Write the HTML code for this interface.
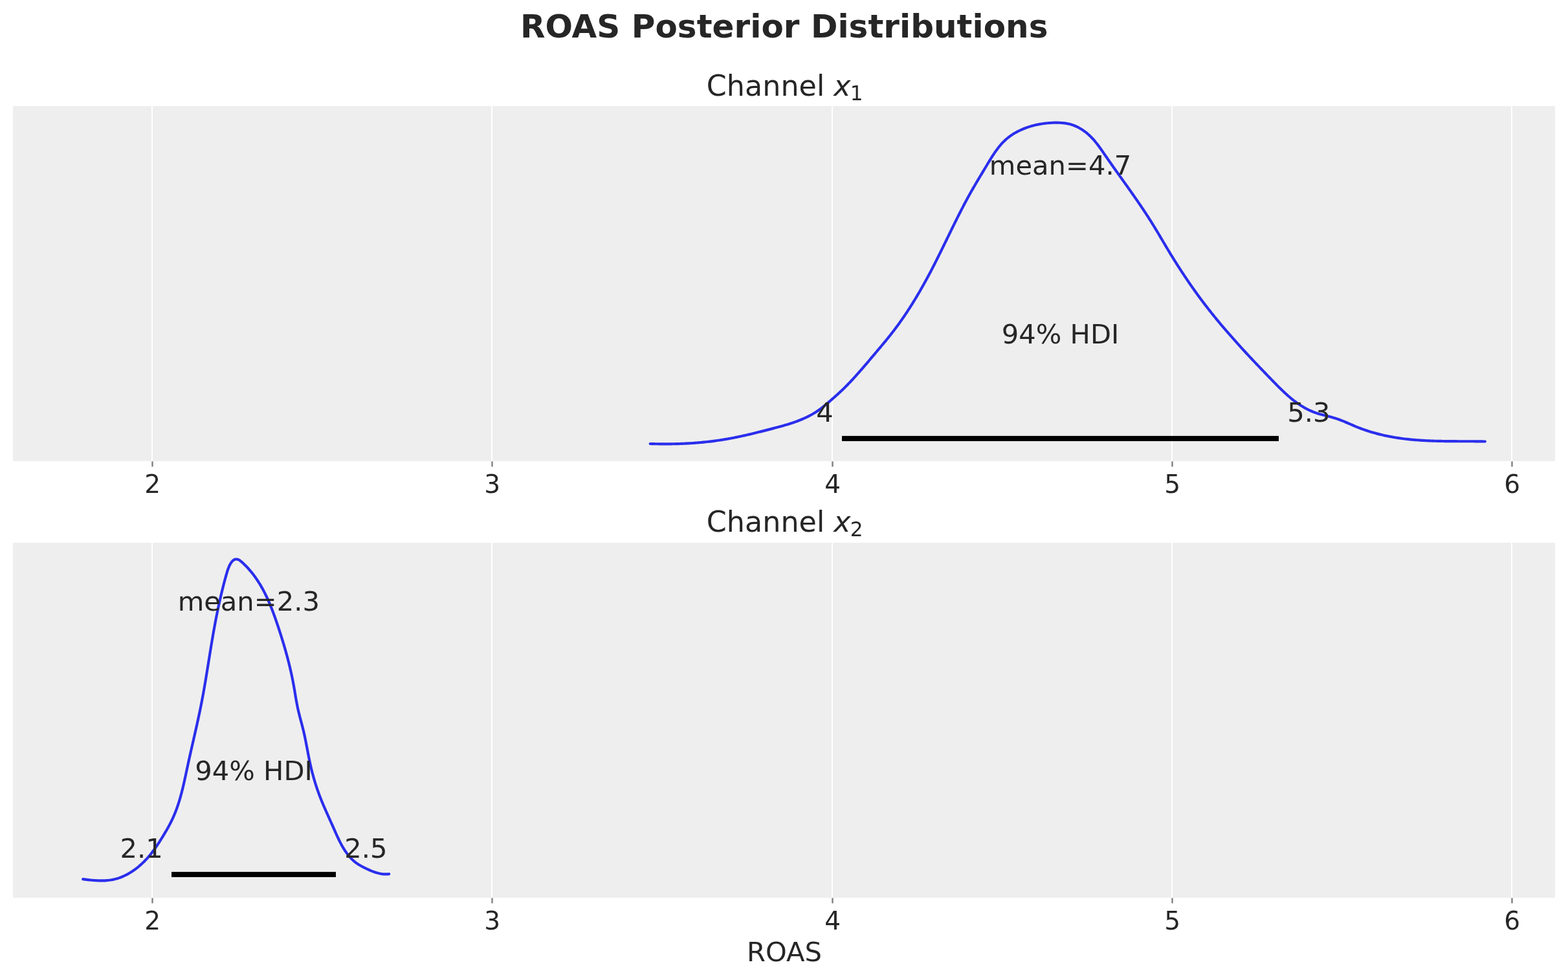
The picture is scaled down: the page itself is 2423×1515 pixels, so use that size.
<!DOCTYPE html>
<html lang="en"><head><meta charset="utf-8">
<title>ROAS Posterior Distributions</title>
<style>
html,body{margin:0;padding:0;background:#fff;}
body{width:2423px;height:1515px;overflow:hidden;}
svg{display:block;}
text{font-family:"DejaVu Sans","Liberation Sans",sans-serif;fill:#262626;}
.tk{font-size:39.1px;text-anchor:middle;}
.an{font-size:41.67px;}
.tt{font-size:44.44px;}
.st{font-size:50px;font-weight:bold;text-anchor:middle;letter-spacing:0.03px;}
.it{font-style:italic;}
.sub{font-size:31.11px;}
</style></head><body>
<svg xmlns="http://www.w3.org/2000/svg" width="2423" height="1515" viewBox="0 0 2423 1515">
<rect x="0" y="0" width="2423" height="1515" fill="#ffffff"/>
<text class="st" x="1211.70" y="57.70">ROAS Posterior Distributions</text>
<g>
<rect x="20.00" y="164.10" width="2383.00" height="548.80" fill="#eeeeee"/>
<rect x="234.00" y="164.10" width="2" height="548.80" fill="#ffffff"/>
<rect x="759.00" y="164.10" width="2" height="548.80" fill="#ffffff"/>
<rect x="1285.00" y="164.10" width="2" height="548.80" fill="#ffffff"/>
<rect x="1810.00" y="164.10" width="2" height="548.80" fill="#ffffff"/>
<rect x="2335.00" y="164.10" width="2" height="548.80" fill="#ffffff"/>
<rect x="234.30" y="713.30" width="2.40" height="8.20" fill="#808080"/>
<rect x="759.30" y="713.30" width="2.40" height="8.20" fill="#808080"/>
<rect x="1285.30" y="713.30" width="2.40" height="8.20" fill="#808080"/>
<rect x="1810.30" y="713.30" width="2.40" height="8.20" fill="#808080"/>
<rect x="2335.30" y="713.30" width="2.40" height="8.20" fill="#808080"/>
<text class="tt" x="1091.80" y="147.60">Channel <tspan class="it" dx="0.00">x</tspan><tspan class="sub" dx="-0.90" dy="7.20">1</tspan></text>
<path d="M1004.70 686.00 L1006.69 686.06 L1008.69 686.12 L1010.69 686.17 L1012.68 686.21 L1014.68 686.25 L1016.68 686.29 L1018.68 686.32 L1020.68 686.34 L1022.68 686.36 L1024.68 686.37 L1026.68 686.38 L1028.68 686.38 L1030.68 686.37 L1032.68 686.36 L1034.69 686.34 L1036.69 686.32 L1038.69 686.29 L1040.69 686.26 L1042.70 686.22 L1044.70 686.17 L1046.70 686.11 L1048.71 686.05 L1050.71 685.99 L1052.71 685.91 L1054.71 685.83 L1056.71 685.75 L1058.72 685.66 L1060.72 685.56 L1062.72 685.45 L1064.72 685.34 L1066.72 685.22 L1068.72 685.09 L1070.72 684.96 L1072.72 684.82 L1074.71 684.67 L1076.71 684.51 L1078.71 684.35 L1080.70 684.18 L1082.70 684.00 L1084.69 683.82 L1086.68 683.63 L1088.67 683.43 L1090.66 683.22 L1092.65 683.01 L1094.64 682.79 L1096.63 682.56 L1098.61 682.32 L1100.60 682.08 L1102.58 681.82 L1104.56 681.56 L1106.54 681.29 L1108.52 681.02 L1110.50 680.73 L1112.47 680.44 L1114.45 680.14 L1116.42 679.83 L1118.39 679.51 L1120.36 679.18 L1122.33 678.85 L1124.29 678.51 L1126.26 678.16 L1128.22 677.80 L1130.18 677.43 L1132.14 677.06 L1134.10 676.68 L1136.05 676.29 L1138.01 675.89 L1139.96 675.49 L1141.92 675.08 L1143.87 674.67 L1145.82 674.25 L1147.77 673.83 L1149.72 673.39 L1151.67 672.96 L1153.62 672.51 L1155.56 672.07 L1157.51 671.62 L1159.46 671.16 L1161.40 670.70 L1163.35 670.23 L1165.29 669.76 L1167.24 669.29 L1169.18 668.81 L1171.12 668.33 L1173.07 667.85 L1175.01 667.36 L1176.96 666.87 L1178.90 666.38 L1180.85 665.88 L1182.79 665.38 L1184.74 664.89 L1186.68 664.38 L1188.63 663.88 L1190.58 663.38 L1192.52 662.87 L1194.47 662.36 L1196.42 661.85 L1198.37 661.34 L1200.32 660.82 L1202.26 660.30 L1204.21 659.77 L1206.15 659.24 L1208.09 658.70 L1210.02 658.16 L1211.96 657.60 L1213.89 657.04 L1215.81 656.46 L1217.73 655.88 L1219.65 655.28 L1221.56 654.67 L1223.46 654.05 L1225.36 653.42 L1227.25 652.77 L1229.13 652.10 L1231.01 651.42 L1232.88 650.72 L1234.74 650.01 L1236.59 649.28 L1238.43 648.52 L1240.26 647.75 L1242.08 646.96 L1243.89 646.14 L1245.68 645.31 L1247.47 644.45 L1249.24 643.56 L1251.01 642.66 L1252.75 641.72 L1254.49 640.77 L1256.21 639.78 L1257.92 638.77 L1259.61 637.73 L1261.29 636.65 L1262.95 635.55 L1264.60 634.42 L1266.23 633.26 L1267.84 632.07 L1269.44 630.86 L1271.03 629.63 L1272.61 628.37 L1274.17 627.10 L1275.73 625.81 L1277.28 624.52 L1278.82 623.21 L1280.35 621.89 L1281.88 620.58 L1283.40 619.26 L1284.92 617.94 L1286.43 616.61 L1287.94 615.29 L1289.44 613.96 L1290.94 612.62 L1292.42 611.29 L1293.91 609.94 L1295.38 608.60 L1296.85 607.24 L1298.31 605.89 L1299.77 604.52 L1301.22 603.15 L1302.65 601.77 L1304.08 600.38 L1305.51 598.99 L1306.92 597.58 L1308.32 596.17 L1309.72 594.75 L1311.11 593.32 L1312.49 591.89 L1313.87 590.45 L1315.24 589.00 L1316.60 587.55 L1317.96 586.09 L1319.31 584.62 L1320.65 583.15 L1321.99 581.67 L1323.33 580.19 L1324.66 578.70 L1325.98 577.21 L1327.30 575.72 L1328.62 574.22 L1329.93 572.71 L1331.24 571.20 L1332.55 569.69 L1333.85 568.18 L1335.15 566.66 L1336.45 565.14 L1337.75 563.62 L1339.04 562.10 L1340.34 560.57 L1341.63 559.04 L1342.92 557.51 L1344.21 555.98 L1345.50 554.45 L1346.79 552.92 L1348.08 551.39 L1349.37 549.85 L1350.66 548.32 L1351.96 546.79 L1353.25 545.26 L1354.54 543.73 L1355.84 542.19 L1357.13 540.66 L1358.42 539.13 L1359.71 537.60 L1361.00 536.06 L1362.29 534.52 L1363.58 532.99 L1364.86 531.45 L1366.14 529.90 L1367.42 528.36 L1368.69 526.81 L1369.96 525.26 L1371.23 523.71 L1372.49 522.15 L1373.74 520.59 L1374.99 519.03 L1376.23 517.46 L1377.47 515.89 L1378.70 514.31 L1379.93 512.73 L1381.14 511.14 L1382.35 509.55 L1383.56 507.96 L1384.75 506.36 L1385.94 504.75 L1387.13 503.14 L1388.30 501.53 L1389.47 499.91 L1390.63 498.28 L1391.79 496.65 L1392.94 495.02 L1394.08 493.39 L1395.22 491.75 L1396.35 490.10 L1397.48 488.45 L1398.60 486.80 L1399.71 485.14 L1400.82 483.48 L1401.92 481.81 L1403.01 480.15 L1404.10 478.47 L1405.19 476.80 L1406.27 475.12 L1407.34 473.43 L1408.40 471.74 L1409.47 470.05 L1410.52 468.36 L1411.57 466.66 L1412.62 464.96 L1413.66 463.25 L1414.70 461.54 L1415.73 459.83 L1416.75 458.12 L1417.77 456.40 L1418.79 454.68 L1419.80 452.95 L1420.81 451.23 L1421.81 449.50 L1422.80 447.76 L1423.80 446.03 L1424.78 444.29 L1425.77 442.55 L1426.75 440.80 L1427.72 439.06 L1428.69 437.31 L1429.66 435.56 L1430.62 433.80 L1431.58 432.04 L1432.54 430.29 L1433.49 428.52 L1434.43 426.76 L1435.38 424.99 L1436.32 423.23 L1437.25 421.45 L1438.18 419.68 L1439.11 417.91 L1440.04 416.13 L1440.96 414.35 L1441.88 412.57 L1442.80 410.79 L1443.71 409.01 L1444.62 407.22 L1445.52 405.43 L1446.43 403.64 L1447.33 401.85 L1448.23 400.06 L1449.13 398.27 L1450.02 396.48 L1450.91 394.68 L1451.80 392.88 L1452.69 391.09 L1453.58 389.29 L1454.47 387.49 L1455.35 385.69 L1456.23 383.89 L1457.12 382.09 L1458.00 380.29 L1458.88 378.49 L1459.76 376.69 L1460.64 374.88 L1461.51 373.08 L1462.39 371.28 L1463.27 369.48 L1464.15 367.68 L1465.02 365.87 L1465.90 364.07 L1466.78 362.27 L1467.66 360.47 L1468.54 358.67 L1469.41 356.87 L1470.29 355.07 L1471.18 353.27 L1472.06 351.47 L1472.94 349.68 L1473.82 347.88 L1474.71 346.08 L1475.60 344.29 L1476.49 342.50 L1477.38 340.71 L1478.27 338.92 L1479.16 337.13 L1480.06 335.34 L1480.96 333.55 L1481.86 331.77 L1482.76 329.99 L1483.67 328.21 L1484.58 326.43 L1485.49 324.65 L1486.40 322.88 L1487.32 321.11 L1488.24 319.34 L1489.17 317.57 L1490.10 315.80 L1491.03 314.04 L1491.96 312.28 L1492.90 310.52 L1493.85 308.77 L1494.80 307.01 L1495.75 305.26 L1496.70 303.52 L1497.67 301.77 L1498.63 300.03 L1499.60 298.29 L1500.58 296.56 L1501.56 294.83 L1502.54 293.10 L1503.53 291.38 L1504.53 289.65 L1505.53 287.93 L1506.53 286.21 L1507.54 284.50 L1508.55 282.78 L1509.56 281.07 L1510.58 279.35 L1511.60 277.64 L1512.62 275.93 L1513.64 274.21 L1514.67 272.50 L1515.70 270.78 L1516.73 269.07 L1517.77 267.35 L1518.80 265.63 L1519.84 263.91 L1520.87 262.19 L1521.91 260.46 L1522.95 258.73 L1523.99 257.00 L1525.02 255.27 L1526.06 253.53 L1527.11 251.79 L1528.15 250.06 L1529.21 248.32 L1530.27 246.59 L1531.33 244.87 L1532.41 243.15 L1533.49 241.45 L1534.59 239.75 L1535.70 238.07 L1536.83 236.39 L1537.97 234.74 L1539.13 233.10 L1540.31 231.48 L1541.51 229.88 L1542.72 228.30 L1543.96 226.74 L1545.23 225.21 L1546.51 223.70 L1547.83 222.22 L1549.17 220.77 L1550.54 219.35 L1551.94 217.96 L1553.37 216.61 L1554.84 215.29 L1556.33 214.01 L1557.86 212.76 L1559.42 211.55 L1561.01 210.38 L1562.63 209.24 L1564.28 208.14 L1565.96 207.07 L1567.65 206.03 L1569.38 205.03 L1571.12 204.07 L1572.89 203.14 L1574.68 202.24 L1576.48 201.37 L1578.31 200.54 L1580.15 199.75 L1582.00 198.98 L1583.87 198.25 L1585.76 197.54 L1587.65 196.87 L1589.56 196.24 L1591.47 195.63 L1593.40 195.05 L1595.33 194.51 L1597.28 193.99 L1599.23 193.51 L1601.19 193.05 L1603.16 192.63 L1605.13 192.23 L1607.11 191.87 L1609.09 191.53 L1611.08 191.22 L1613.07 190.94 L1615.07 190.69 L1617.06 190.47 L1619.06 190.27 L1621.06 190.11 L1623.06 189.96 L1625.07 189.85 L1627.07 189.76 L1629.07 189.70 L1631.07 189.67 L1633.06 189.67 L1635.06 189.69 L1637.05 189.75 L1639.03 189.85 L1641.01 189.98 L1642.98 190.16 L1644.94 190.39 L1646.90 190.67 L1648.84 190.99 L1650.78 191.38 L1652.70 191.82 L1654.61 192.33 L1656.50 192.89 L1658.39 193.53 L1660.25 194.24 L1662.10 195.01 L1663.93 195.84 L1665.74 196.74 L1667.53 197.69 L1669.29 198.69 L1671.03 199.75 L1672.75 200.86 L1674.43 202.01 L1676.09 203.20 L1677.71 204.44 L1679.30 205.71 L1680.86 207.02 L1682.38 208.36 L1683.86 209.72 L1685.31 211.12 L1686.71 212.54 L1688.09 213.98 L1689.43 215.45 L1690.74 216.93 L1692.02 218.44 L1693.28 219.96 L1694.51 221.50 L1695.72 223.06 L1696.92 224.63 L1698.10 226.22 L1699.26 227.81 L1700.42 229.42 L1701.56 231.04 L1702.70 232.66 L1703.83 234.30 L1704.96 235.93 L1706.10 237.58 L1707.23 239.22 L1708.37 240.87 L1709.51 242.52 L1710.65 244.17 L1711.80 245.82 L1712.94 247.47 L1714.09 249.12 L1715.25 250.77 L1716.40 252.41 L1717.56 254.06 L1718.71 255.70 L1719.87 257.34 L1721.03 258.98 L1722.18 260.62 L1723.34 262.25 L1724.50 263.88 L1725.66 265.52 L1726.82 267.14 L1727.98 268.77 L1729.15 270.40 L1730.31 272.02 L1731.47 273.65 L1732.63 275.27 L1733.79 276.90 L1734.95 278.52 L1736.11 280.14 L1737.27 281.77 L1738.43 283.39 L1739.59 285.02 L1740.75 286.64 L1741.90 288.27 L1743.06 289.89 L1744.21 291.52 L1745.37 293.15 L1746.52 294.78 L1747.67 296.41 L1748.82 298.04 L1749.97 299.68 L1751.12 301.32 L1752.27 302.95 L1753.41 304.60 L1754.55 306.24 L1755.69 307.88 L1756.83 309.53 L1757.97 311.18 L1759.10 312.83 L1760.23 314.48 L1761.36 316.14 L1762.48 317.79 L1763.60 319.45 L1764.72 321.11 L1765.84 322.78 L1766.95 324.44 L1768.06 326.11 L1769.16 327.78 L1770.26 329.46 L1771.36 331.13 L1772.45 332.81 L1773.54 334.49 L1774.62 336.17 L1775.70 337.86 L1776.78 339.54 L1777.85 341.23 L1778.92 342.93 L1779.98 344.62 L1781.04 346.32 L1782.09 348.02 L1783.13 349.72 L1784.18 351.43 L1785.21 353.14 L1786.25 354.85 L1787.28 356.56 L1788.31 358.27 L1789.34 359.99 L1790.36 361.70 L1791.38 363.42 L1792.40 365.13 L1793.42 366.85 L1794.44 368.57 L1795.46 370.29 L1796.47 372.01 L1797.49 373.73 L1798.51 375.45 L1799.53 377.17 L1800.54 378.89 L1801.57 380.60 L1802.59 382.32 L1803.61 384.03 L1804.64 385.75 L1805.67 387.46 L1806.70 389.17 L1807.74 390.88 L1808.78 392.59 L1809.82 394.30 L1810.87 396.00 L1811.92 397.71 L1812.97 399.41 L1814.03 401.11 L1815.09 402.80 L1816.15 404.50 L1817.22 406.19 L1818.29 407.89 L1819.36 409.58 L1820.44 411.26 L1821.52 412.95 L1822.60 414.63 L1823.69 416.31 L1824.78 417.99 L1825.87 419.67 L1826.97 421.35 L1828.07 423.02 L1829.18 424.69 L1830.28 426.36 L1831.40 428.02 L1832.51 429.68 L1833.63 431.34 L1834.75 433.00 L1835.88 434.66 L1837.01 436.31 L1838.14 437.96 L1839.28 439.61 L1840.42 441.25 L1841.57 442.90 L1842.72 444.54 L1843.87 446.17 L1845.02 447.81 L1846.18 449.44 L1847.35 451.07 L1848.52 452.69 L1849.69 454.31 L1850.86 455.93 L1852.04 457.55 L1853.23 459.16 L1854.41 460.77 L1855.61 462.38 L1856.80 463.98 L1858.00 465.58 L1859.20 467.18 L1860.41 468.78 L1861.62 470.37 L1862.84 471.96 L1864.06 473.54 L1865.28 475.12 L1866.51 476.70 L1867.74 478.27 L1868.97 479.85 L1870.21 481.41 L1871.45 482.98 L1872.70 484.54 L1873.95 486.10 L1875.20 487.66 L1876.46 489.21 L1877.72 490.76 L1878.98 492.31 L1880.25 493.86 L1881.52 495.40 L1882.79 496.94 L1884.07 498.48 L1885.35 500.01 L1886.63 501.54 L1887.92 503.07 L1889.21 504.60 L1890.50 506.13 L1891.79 507.65 L1893.09 509.17 L1894.39 510.68 L1895.70 512.20 L1897.01 513.71 L1898.32 515.22 L1899.63 516.73 L1900.94 518.23 L1902.26 519.74 L1903.58 521.24 L1904.91 522.74 L1906.23 524.23 L1907.56 525.73 L1908.89 527.22 L1910.22 528.71 L1911.56 530.20 L1912.90 531.69 L1914.24 533.17 L1915.58 534.66 L1916.93 536.14 L1918.27 537.62 L1919.62 539.09 L1920.97 540.57 L1922.33 542.04 L1923.68 543.52 L1925.04 544.99 L1926.40 546.46 L1927.76 547.92 L1929.12 549.39 L1930.49 550.86 L1931.85 552.32 L1933.22 553.78 L1934.59 555.24 L1935.96 556.70 L1937.34 558.16 L1938.71 559.61 L1940.09 561.07 L1941.46 562.52 L1942.84 563.98 L1944.22 565.43 L1945.60 566.88 L1946.99 568.33 L1948.37 569.78 L1949.76 571.22 L1951.14 572.67 L1952.53 574.12 L1953.92 575.56 L1955.31 577.00 L1956.70 578.45 L1958.09 579.89 L1959.48 581.33 L1960.88 582.77 L1962.27 584.21 L1963.67 585.65 L1965.06 587.09 L1966.46 588.53 L1967.85 589.96 L1969.25 591.40 L1970.65 592.83 L1972.06 594.26 L1973.47 595.69 L1974.88 597.11 L1976.29 598.52 L1977.72 599.93 L1979.14 601.34 L1980.58 602.73 L1982.02 604.12 L1983.47 605.49 L1984.93 606.86 L1986.39 608.21 L1987.87 609.56 L1989.36 610.89 L1990.85 612.21 L1992.36 613.51 L1993.89 614.80 L1995.42 616.07 L1996.97 617.33 L1998.53 618.57 L2000.11 619.80 L2001.70 621.00 L2003.31 622.19 L2004.93 623.35 L2006.57 624.49 L2008.23 625.61 L2009.90 626.70 L2011.58 627.77 L2013.28 628.81 L2015.00 629.83 L2016.74 630.81 L2018.49 631.76 L2020.25 632.69 L2022.03 633.58 L2023.83 634.43 L2025.65 635.25 L2027.48 636.03 L2029.32 636.78 L2031.18 637.49 L2033.06 638.15 L2034.96 638.79 L2036.86 639.39 L2038.78 639.96 L2040.71 640.51 L2042.65 641.04 L2044.59 641.56 L2046.54 642.06 L2048.49 642.56 L2050.44 643.06 L2052.39 643.55 L2054.34 644.06 L2056.29 644.57 L2058.23 645.09 L2060.16 645.64 L2062.09 646.21 L2064.01 646.80 L2065.92 647.42 L2067.81 648.07 L2069.69 648.75 L2071.57 649.46 L2073.44 650.18 L2075.30 650.93 L2077.15 651.69 L2079.00 652.46 L2080.84 653.25 L2082.68 654.04 L2084.52 654.84 L2086.36 655.64 L2088.20 656.44 L2090.03 657.23 L2091.87 658.02 L2093.72 658.81 L2095.56 659.58 L2097.41 660.34 L2099.27 661.08 L2101.14 661.81 L2103.00 662.52 L2104.88 663.22 L2106.76 663.89 L2108.64 664.56 L2110.53 665.21 L2112.43 665.84 L2114.33 666.46 L2116.23 667.06 L2118.14 667.65 L2120.06 668.22 L2121.97 668.78 L2123.90 669.33 L2125.82 669.86 L2127.75 670.37 L2129.69 670.87 L2131.63 671.36 L2133.57 671.84 L2135.51 672.30 L2137.46 672.75 L2139.41 673.18 L2141.36 673.61 L2143.32 674.02 L2145.28 674.41 L2147.24 674.80 L2149.21 675.17 L2151.18 675.53 L2153.15 675.87 L2155.12 676.21 L2157.09 676.53 L2159.07 676.84 L2161.04 677.14 L2163.02 677.43 L2165.00 677.71 L2166.98 677.98 L2168.97 678.23 L2170.95 678.48 L2172.94 678.71 L2174.92 678.94 L2176.91 679.15 L2178.90 679.36 L2180.89 679.55 L2182.88 679.74 L2184.87 679.91 L2186.86 680.08 L2188.86 680.24 L2190.85 680.39 L2192.85 680.54 L2194.84 680.67 L2196.84 680.80 L2198.84 680.92 L2200.83 681.03 L2202.83 681.14 L2204.83 681.24 L2206.83 681.33 L2208.83 681.42 L2210.83 681.50 L2212.83 681.57 L2214.84 681.64 L2216.84 681.71 L2218.84 681.76 L2220.84 681.82 L2222.85 681.87 L2224.85 681.91 L2226.86 681.95 L2228.86 681.99 L2230.86 682.02 L2232.87 682.05 L2234.87 682.08 L2236.88 682.10 L2238.88 682.12 L2240.89 682.14 L2242.89 682.15 L2244.90 682.17 L2246.90 682.18 L2248.91 682.19 L2250.91 682.20 L2252.91 682.21 L2254.92 682.21 L2256.92 682.22 L2258.92 682.22 L2260.93 682.23 L2262.93 682.23 L2264.93 682.24 L2266.93 682.24 L2268.94 682.25 L2270.94 682.26 L2272.94 682.27 L2274.94 682.28 L2276.94 682.29 L2278.94 682.30 L2280.93 682.32 L2282.93 682.33 L2284.93 682.35 L2286.92 682.38 L2288.92 682.40 L2290.91 682.43 L2292.91 682.46 L2294.90 682.50" fill="none" stroke="#2a2eec" stroke-width="4.17" stroke-linecap="round" stroke-linejoin="round"/>
<rect x="1301.00" y="673.90" width="675.00" height="8.10" fill="#000000"/>
<text class="an" text-anchor="middle" x="1638.50" y="270.00">mean=4.7</text>
<text class="an" text-anchor="middle" x="1638.50" y="530.80">94% HDI</text>
<text class="an" text-anchor="end" x="1287.75" y="651.60">4</text>
<text class="an" text-anchor="start" x="1989.25" y="651.60">5.3</text>
<text class="tk" x="235.80" y="761.80">2</text>
<text class="tk" x="760.80" y="761.80">3</text>
<text class="tk" x="1286.80" y="761.80">4</text>
<text class="tk" x="1811.80" y="761.80">5</text>
<text class="tk" x="2336.80" y="761.80">6</text>
</g>
<g>
<rect x="20.00" y="839.10" width="2383.00" height="548.75" fill="#eeeeee"/>
<rect x="234.00" y="839.10" width="2" height="548.75" fill="#ffffff"/>
<rect x="759.00" y="839.10" width="2" height="548.75" fill="#ffffff"/>
<rect x="1285.00" y="839.10" width="2" height="548.75" fill="#ffffff"/>
<rect x="1810.00" y="839.10" width="2" height="548.75" fill="#ffffff"/>
<rect x="2335.00" y="839.10" width="2" height="548.75" fill="#ffffff"/>
<rect x="234.30" y="1388.25" width="2.40" height="8.20" fill="#808080"/>
<rect x="759.30" y="1388.25" width="2.40" height="8.20" fill="#808080"/>
<rect x="1285.30" y="1388.25" width="2.40" height="8.20" fill="#808080"/>
<rect x="1810.30" y="1388.25" width="2.40" height="8.20" fill="#808080"/>
<rect x="2335.30" y="1388.25" width="2.40" height="8.20" fill="#808080"/>
<text class="tt" x="1091.80" y="821.90">Channel <tspan class="it" dx="0.00">x</tspan><tspan class="sub" dx="-0.90" dy="7.20">2</tspan></text>
<path d="M128.20 1359.10 L130.16 1359.36 L132.14 1359.61 L134.12 1359.85 L136.11 1360.09 L138.10 1360.31 L140.10 1360.52 L142.10 1360.72 L144.11 1360.89 L146.12 1361.04 L148.13 1361.18 L150.14 1361.28 L152.15 1361.36 L154.17 1361.42 L156.17 1361.44 L158.18 1361.43 L160.18 1361.38 L162.18 1361.30 L164.17 1361.17 L166.15 1361.01 L168.13 1360.80 L170.10 1360.55 L172.06 1360.25 L174.01 1359.90 L175.95 1359.49 L177.87 1359.04 L179.79 1358.53 L181.69 1357.97 L183.57 1357.36 L185.45 1356.70 L187.31 1355.99 L189.15 1355.24 L190.98 1354.44 L192.79 1353.60 L194.59 1352.72 L196.37 1351.79 L198.13 1350.83 L199.87 1349.82 L201.60 1348.78 L203.31 1347.70 L205.00 1346.59 L206.67 1345.44 L208.31 1344.26 L209.94 1343.05 L211.55 1341.81 L213.13 1340.55 L214.70 1339.25 L216.24 1337.93 L217.76 1336.58 L219.25 1335.22 L220.72 1333.82 L222.17 1332.41 L223.59 1330.98 L224.98 1329.53 L226.35 1328.07 L227.70 1326.58 L229.02 1325.09 L230.31 1323.57 L231.59 1322.05 L232.84 1320.51 L234.07 1318.95 L235.28 1317.38 L236.48 1315.80 L237.66 1314.21 L238.82 1312.60 L239.96 1310.99 L241.10 1309.36 L242.22 1307.72 L243.32 1306.07 L244.42 1304.42 L245.51 1302.75 L246.59 1301.08 L247.66 1299.39 L248.72 1297.70 L249.78 1296.01 L250.83 1294.30 L251.88 1292.59 L252.93 1290.88 L253.97 1289.15 L255.00 1287.42 L256.03 1285.69 L257.04 1283.95 L258.05 1282.20 L259.04 1280.44 L260.02 1278.68 L260.99 1276.91 L261.94 1275.13 L262.88 1273.35 L263.80 1271.56 L264.70 1269.76 L265.58 1267.95 L266.44 1266.14 L267.28 1264.32 L268.10 1262.49 L268.90 1260.66 L269.67 1258.82 L270.43 1256.97 L271.17 1255.11 L271.89 1253.25 L272.59 1251.39 L273.27 1249.51 L273.94 1247.63 L274.58 1245.75 L275.22 1243.86 L275.84 1241.96 L276.44 1240.06 L277.03 1238.16 L277.60 1236.25 L278.16 1234.33 L278.71 1232.41 L279.25 1230.49 L279.78 1228.56 L280.29 1226.63 L280.80 1224.70 L281.29 1222.76 L281.78 1220.82 L282.26 1218.88 L282.73 1216.93 L283.19 1214.98 L283.65 1213.03 L284.10 1211.08 L284.54 1209.12 L284.98 1207.17 L285.41 1205.21 L285.84 1203.25 L286.27 1201.29 L286.69 1199.32 L287.12 1197.36 L287.54 1195.40 L287.95 1193.43 L288.37 1191.47 L288.79 1189.51 L289.21 1187.54 L289.63 1185.58 L290.05 1183.62 L290.48 1181.65 L290.90 1179.69 L291.33 1177.73 L291.76 1175.77 L292.20 1173.81 L292.63 1171.85 L293.07 1169.89 L293.50 1167.94 L293.94 1165.98 L294.38 1164.02 L294.83 1162.07 L295.27 1160.11 L295.71 1158.15 L296.16 1156.20 L296.60 1154.24 L297.05 1152.29 L297.49 1150.34 L297.94 1148.38 L298.39 1146.43 L298.83 1144.47 L299.28 1142.52 L299.72 1140.57 L300.17 1138.62 L300.61 1136.66 L301.06 1134.71 L301.50 1132.76 L301.94 1130.80 L302.38 1128.85 L302.82 1126.90 L303.26 1124.94 L303.70 1122.99 L304.14 1121.04 L304.57 1119.08 L305.00 1117.13 L305.43 1115.17 L305.86 1113.22 L306.28 1111.26 L306.70 1109.31 L307.12 1107.35 L307.54 1105.39 L307.96 1103.44 L308.37 1101.48 L308.78 1099.52 L309.18 1097.56 L309.58 1095.60 L309.98 1093.64 L310.38 1091.68 L310.77 1089.72 L311.15 1087.76 L311.54 1085.79 L311.92 1083.83 L312.29 1081.86 L312.66 1079.90 L313.03 1077.93 L313.40 1075.97 L313.76 1074.00 L314.12 1072.03 L314.47 1070.06 L314.82 1068.09 L315.17 1066.12 L315.52 1064.15 L315.86 1062.18 L316.21 1060.21 L316.55 1058.24 L316.88 1056.26 L317.22 1054.29 L317.55 1052.32 L317.88 1050.34 L318.21 1048.37 L318.54 1046.39 L318.87 1044.42 L319.19 1042.44 L319.51 1040.47 L319.84 1038.49 L320.16 1036.52 L320.48 1034.54 L320.80 1032.56 L321.12 1030.59 L321.44 1028.61 L321.76 1026.63 L322.07 1024.65 L322.39 1022.67 L322.71 1020.70 L323.03 1018.72 L323.35 1016.74 L323.67 1014.76 L323.98 1012.78 L324.30 1010.81 L324.62 1008.83 L324.94 1006.85 L325.27 1004.87 L325.59 1002.89 L325.91 1000.91 L326.24 998.94 L326.57 996.96 L326.89 994.98 L327.22 993.00 L327.55 991.02 L327.89 989.05 L328.22 987.07 L328.56 985.09 L328.90 983.12 L329.24 981.14 L329.59 979.16 L329.93 977.19 L330.28 975.21 L330.64 973.24 L330.99 971.26 L331.35 969.29 L331.71 967.31 L332.08 965.34 L332.45 963.37 L332.82 961.40 L333.20 959.42 L333.58 957.45 L333.96 955.48 L334.35 953.51 L334.74 951.54 L335.13 949.57 L335.53 947.61 L335.93 945.64 L336.34 943.67 L336.75 941.71 L337.16 939.75 L337.58 937.79 L338.00 935.83 L338.43 933.87 L338.86 931.92 L339.29 929.97 L339.73 928.02 L340.17 926.07 L340.62 924.12 L341.07 922.18 L341.52 920.24 L341.98 918.30 L342.44 916.36 L342.90 914.43 L343.37 912.50 L343.85 910.57 L344.33 908.65 L344.81 906.73 L345.30 904.81 L345.79 902.89 L346.29 900.97 L346.79 899.05 L347.30 897.14 L347.82 895.22 L348.35 893.29 L348.88 891.37 L349.42 889.45 L349.97 887.52 L350.53 885.58 L351.10 883.64 L351.72 881.68 L352.40 879.70 L353.16 877.68 L354.01 875.63 L354.97 873.60 L356.03 871.64 L357.18 869.81 L358.43 868.17 L359.79 866.76 L361.24 865.64 L362.78 864.87 L364.38 864.47 L366.00 864.47 L367.62 864.87 L369.23 865.60 L370.81 866.61 L372.38 867.82 L373.93 869.15 L375.45 870.54 L376.95 871.96 L378.41 873.39 L379.85 874.83 L381.27 876.30 L382.66 877.78 L384.03 879.28 L385.37 880.79 L386.68 882.32 L387.98 883.86 L389.25 885.42 L390.49 886.99 L391.72 888.57 L392.92 890.17 L394.10 891.79 L395.26 893.42 L396.39 895.06 L397.51 896.71 L398.61 898.37 L399.69 900.05 L400.75 901.74 L401.79 903.44 L402.81 905.15 L403.81 906.87 L404.80 908.61 L405.76 910.35 L406.71 912.10 L407.65 913.87 L408.57 915.64 L409.47 917.42 L410.36 919.21 L411.23 921.01 L412.09 922.81 L412.94 924.63 L413.77 926.45 L414.59 928.28 L415.39 930.11 L416.19 931.95 L416.97 933.80 L417.74 935.66 L418.50 937.52 L419.24 939.38 L419.98 941.25 L420.71 943.12 L421.43 945.00 L422.14 946.89 L422.84 948.77 L423.53 950.66 L424.21 952.56 L424.89 954.45 L425.56 956.35 L426.23 958.25 L426.88 960.15 L427.53 962.06 L428.18 963.96 L428.82 965.87 L429.46 967.78 L430.09 969.69 L430.72 971.59 L431.34 973.50 L431.96 975.41 L432.58 977.32 L433.19 979.23 L433.80 981.14 L434.41 983.04 L435.01 984.95 L435.60 986.86 L436.19 988.77 L436.78 990.69 L437.36 992.60 L437.94 994.51 L438.51 996.42 L439.08 998.34 L439.64 1000.25 L440.19 1002.17 L440.74 1004.09 L441.29 1006.01 L441.83 1007.93 L442.37 1009.85 L442.89 1011.77 L443.42 1013.69 L443.94 1015.62 L444.45 1017.55 L444.95 1019.47 L445.45 1021.40 L445.94 1023.34 L446.43 1025.27 L446.91 1027.20 L447.38 1029.14 L447.85 1031.08 L448.31 1033.02 L448.76 1034.97 L449.21 1036.91 L449.65 1038.86 L450.08 1040.81 L450.51 1042.76 L450.93 1044.72 L451.34 1046.68 L451.74 1048.64 L452.13 1050.60 L452.52 1052.56 L452.90 1054.53 L453.27 1056.50 L453.64 1058.48 L453.99 1060.45 L454.34 1062.43 L454.68 1064.42 L455.02 1066.40 L455.35 1068.38 L455.69 1070.37 L456.02 1072.36 L456.35 1074.34 L456.69 1076.33 L457.02 1078.32 L457.36 1080.30 L457.71 1082.28 L458.07 1084.26 L458.43 1086.24 L458.80 1088.22 L459.18 1090.19 L459.58 1092.16 L459.99 1094.12 L460.41 1096.08 L460.85 1098.03 L461.30 1099.98 L461.77 1101.93 L462.25 1103.87 L462.74 1105.81 L463.24 1107.75 L463.74 1109.68 L464.25 1111.61 L464.76 1113.54 L465.28 1115.47 L465.79 1117.40 L466.30 1119.33 L466.81 1121.27 L467.31 1123.20 L467.80 1125.14 L468.29 1127.07 L468.77 1129.02 L469.23 1130.96 L469.68 1132.91 L470.12 1134.86 L470.55 1136.82 L470.97 1138.78 L471.39 1140.74 L471.79 1142.70 L472.19 1144.67 L472.58 1146.63 L472.97 1148.60 L473.35 1150.57 L473.73 1152.55 L474.11 1154.52 L474.48 1156.49 L474.86 1158.46 L475.23 1160.43 L475.61 1162.41 L475.98 1164.38 L476.36 1166.35 L476.75 1168.32 L477.13 1170.29 L477.53 1172.26 L477.93 1174.22 L478.33 1176.18 L478.75 1178.14 L479.17 1180.10 L479.60 1182.06 L480.05 1184.01 L480.50 1185.96 L480.96 1187.91 L481.43 1189.85 L481.91 1191.79 L482.40 1193.73 L482.91 1195.66 L483.42 1197.59 L483.94 1199.52 L484.47 1201.44 L485.02 1203.37 L485.57 1205.28 L486.13 1207.20 L486.71 1209.11 L487.30 1211.02 L487.90 1212.93 L488.51 1214.83 L489.13 1216.73 L489.76 1218.62 L490.40 1220.51 L491.06 1222.40 L491.73 1224.28 L492.41 1226.16 L493.10 1228.04 L493.81 1229.91 L494.52 1231.78 L495.25 1233.65 L495.99 1235.51 L496.73 1237.37 L497.49 1239.23 L498.26 1241.09 L499.03 1242.94 L499.81 1244.79 L500.60 1246.63 L501.40 1248.48 L502.20 1250.32 L503.00 1252.16 L503.81 1254.00 L504.62 1255.83 L505.44 1257.67 L506.26 1259.50 L507.08 1261.33 L507.91 1263.17 L508.73 1265.00 L509.55 1266.82 L510.38 1268.65 L511.20 1270.48 L512.02 1272.31 L512.84 1274.14 L513.66 1275.96 L514.47 1277.79 L515.28 1279.62 L516.08 1281.44 L516.89 1283.27 L517.69 1285.09 L518.50 1286.92 L519.31 1288.74 L520.12 1290.55 L520.95 1292.37 L521.78 1294.17 L522.63 1295.98 L523.49 1297.77 L524.37 1299.56 L525.26 1301.35 L526.17 1303.12 L527.11 1304.89 L528.07 1306.65 L529.05 1308.40 L530.06 1310.14 L531.10 1311.86 L532.17 1313.57 L533.27 1315.27 L534.41 1316.94 L535.57 1318.59 L536.77 1320.22 L538.01 1321.81 L539.28 1323.37 L540.59 1324.89 L541.94 1326.38 L543.32 1327.82 L544.75 1329.21 L546.21 1330.56 L547.72 1331.85 L549.27 1333.09 L550.87 1334.28 L552.50 1335.41 L554.16 1336.50 L555.86 1337.54 L557.59 1338.54 L559.34 1339.51 L561.12 1340.45 L562.91 1341.35 L564.72 1342.23 L566.54 1343.09 L568.37 1343.93 L570.21 1344.76 L572.05 1345.56 L573.91 1346.33 L575.77 1347.07 L577.64 1347.78 L579.53 1348.43 L581.42 1349.04 L583.33 1349.59 L585.25 1350.08 L587.19 1350.50 L589.14 1350.85 L591.11 1351.12 L593.09 1351.31 L595.09 1351.41 L597.11 1351.41 L599.14 1351.31 L601.20 1351.10" fill="none" stroke="#2a2eec" stroke-width="4.17" stroke-linecap="round" stroke-linejoin="round"/>
<rect x="265.00" y="1347.85" width="254.00" height="8.10" fill="#000000"/>
<text class="an" text-anchor="middle" x="384.30" y="943.90">mean=2.3</text>
<text class="an" text-anchor="middle" x="392.00" y="1206.00">94% HDI</text>
<text class="an" text-anchor="end" x="251.75" y="1326.40">2.1</text>
<text class="an" text-anchor="start" x="532.25" y="1326.40">2.5</text>
<text class="tk" x="235.80" y="1436.60">2</text>
<text class="tk" x="760.80" y="1436.60">3</text>
<text class="tk" x="1286.80" y="1436.60">4</text>
<text class="tk" x="1811.80" y="1436.60">5</text>
<text class="tk" x="2336.80" y="1436.60">6</text>
</g>
<text class="an" text-anchor="middle" x="1212.00" y="1485.80">ROAS</text>
</svg>
</body></html>
